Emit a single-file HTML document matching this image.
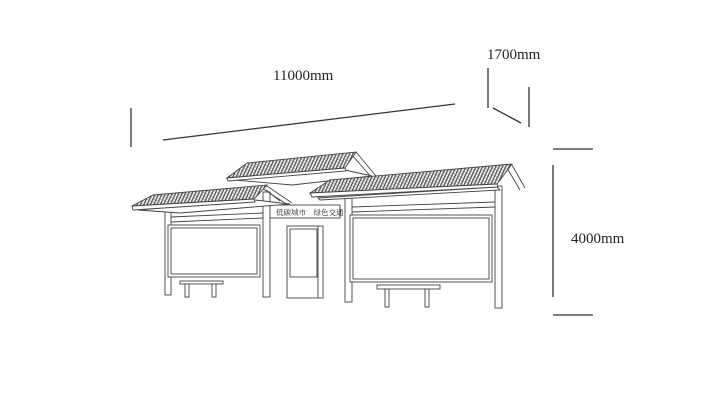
<!DOCTYPE html>
<html><head><meta charset="utf-8"><style>
html,body{margin:0;padding:0;background:#fff;width:720px;height:400px;overflow:hidden}
text{font-family:"Liberation Serif","Noto Serif CJK SC",serif;fill:#222}
</style></head><body>
<svg width="720" height="400" viewBox="0 0 720 400" xmlns="http://www.w3.org/2000/svg">
<defs>
<pattern id="tile" width="3" height="3" patternUnits="userSpaceOnUse" patternTransform="rotate(25)">
<rect width="3" height="3" fill="#fff"/><line x1="0.8" y1="0" x2="0.8" y2="3" stroke="#333" stroke-width="1.1"/><line x1="0" y1="1.5" x2="3" y2="1.5" stroke="#777" stroke-width="0.5"/>
</pattern>
</defs>
<g stroke="#333" fill="none" stroke-width="1.3">
<line x1="131" y1="108" x2="131" y2="147"/>
<line x1="163" y1="140" x2="455" y2="104"/>
<line x1="488" y1="68" x2="488" y2="108"/>
<line x1="493" y1="108" x2="521" y2="123"/>
<line x1="529" y1="87" x2="529" y2="127"/>
<line x1="553" y1="149" x2="593" y2="149"/>
<line x1="553" y1="315" x2="593" y2="315"/>
<line x1="553" y1="165" x2="553" y2="297"/>
</g>
<text x="273" y="80" font-size="15">11000mm</text>
<text x="487" y="59" font-size="15">1700mm</text>
<text x="571" y="243" font-size="15">4000mm</text>

<g stroke="#444" stroke-width="0.9" fill="#fff">
<!-- posts -->
<rect x="165" y="205" width="6" height="90"/>
<rect x="263" y="192" width="7" height="105"/>
<rect x="345" y="190" width="7" height="112"/>
<rect x="495" y="186" width="7" height="122"/>
<!-- beams -->
<line x1="171" y1="217" x2="263" y2="213"/>
<line x1="171" y1="222" x2="263" y2="218"/>
<line x1="352" y1="207" x2="495" y2="202"/>
<line x1="352" y1="212" x2="495" y2="207"/>
<!-- panels -->
<rect x="168" y="225" width="92" height="52"/>
<rect x="171" y="228" width="86" height="46"/>
<rect x="350" y="215" width="142" height="67"/>
<rect x="353" y="218" width="136" height="61"/>
<!-- sign -->
<rect x="270" y="205" width="70" height="13"/>
<!-- kiosk -->
<rect x="287" y="226" width="36" height="72"/>
<rect x="290" y="229" width="27" height="48"/>
<line x1="318" y1="226" x2="318" y2="298"/>
<!-- benches -->
<rect x="180" y="281" width="43" height="3"/>
<rect x="185" y="284" width="4" height="13"/>
<rect x="212" y="284" width="4" height="13"/>
<rect x="377" y="285" width="63" height="4"/>
<rect x="385" y="289" width="4" height="18"/>
<rect x="425" y="289" width="4" height="18"/>

<!-- middle roof -->
<polygon points="234,180 345,170 372,176 292,185"/>
<line x1="356" y1="152" x2="376" y2="176"/>
<line x1="352" y1="155" x2="372" y2="178"/>
<polygon points="227,178 247,163 356,152 345,168" fill="url(#tile)"/>
<polygon points="227,178 345,168 346,171 228,181"/>
<!-- left roof -->
<polygon points="138,210 255,200 290,204 180,213"/>
<line x1="267" y1="186" x2="292" y2="203"/>
<line x1="262" y1="188" x2="288" y2="205"/>
<polygon points="132,206 153,195 267,185 254,199" fill="url(#tile)"/>
<polygon points="132,206 254,199 255,202 133,210"/>
<!-- right roof -->
<polygon points="318,198 497,187 500,190 320,200"/>
<line x1="512" y1="165" x2="525" y2="188"/>
<line x1="507" y1="168" x2="520" y2="190"/>
<polygon points="310,193 330,180 512,164 497,184" fill="url(#tile)"/>
<polygon points="310,193 497,184 498,187 312,197"/>
<line x1="266" y1="190" x2="280" y2="201"/>
</g>
<text x="276" y="215" font-size="7.5">低碳城市　绿色交通</text>
</svg>
</body></html>
